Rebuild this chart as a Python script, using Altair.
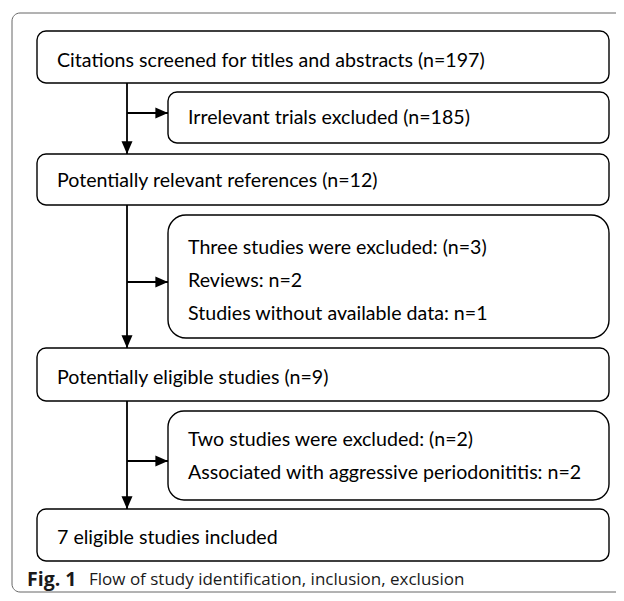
import altair as alt
import pandas as pd

# ---- content ----
main_steps = [
    "Citations screened for titles and abstracts (n=197)",
    "Potentially relevant references (n=12)",
    "Potentially eligible studies (n=9)",
    "7 eligible studies included",
]
exclusion_texts = [
    ["Irrelevant trials excluded (n=185)"],
    ["Three studies were excluded: (n=3)", "Reviews: n=2",
     "Studies without available data: n=1"],
    ["Two studies were excluded: (n=2)",
     "Associated with aggressive periodonititis: n=2"],
]
caption_label = "Fig. 1"
caption_text = "Flow of study identification, inclusion, exclusion"

# ---- layout (page pixel coordinates) ----
MAIN_X = (37, 609)
EXC_X = (168, 609)
TRUNK_X = 127
main_y = [(31, 83), (154, 205), (348, 401), (509, 561)]
main_text_y = [61, 181, 378, 538]
exc_y = [(92, 143), (215, 338), (411, 500)]
exc_radius = [9, 18, 16]
exc_text_y = [[118], [248, 281, 314], [440, 473]]
branch_y = [113, 282, 461]
FRAME = dict(x=12, x2=660, y=13, y2=592)

W, H = 608, 585
xs = alt.Scale(domain=[8, 8 + W], range=[0, W])
ys = alt.Scale(domain=[8, 8 + H], range=[0, H])
FONT = "Lato"
FS = 19.6


def X(f="x"):
    return alt.X(f"{f}:Q", scale=xs, axis=None)


def Y(f="y"):
    return alt.Y(f"{f}:Q", scale=ys, axis=None)


layers = []

# outer frame
frame_df = pd.DataFrame([FRAME])
layers.append(
    alt.Chart(frame_df).mark_rect(fill="white", stroke="#666666", strokeWidth=1,
                                  cornerRadius=8, clip=True)
    .encode(x=X(), x2="x2:Q", y=Y(), y2="y2:Q")
)

# connectors: trunk segments between main boxes
trunk = pd.DataFrame([
    {"x": TRUNK_X, "y": main_y[i][1], "y2": main_y[i + 1][0]}
    for i in range(len(main_y) - 1)
])
layers.append(
    alt.Chart(trunk).mark_rule(color="black", strokeWidth=1.8)
    .encode(x=X(), y=Y(), y2="y2:Q")
)
branches = pd.DataFrame([
    {"x": TRUNK_X, "x2": EXC_X[0], "y": by} for by in branch_y
])
layers.append(
    alt.Chart(branches).mark_rule(color="black", strokeWidth=1.8)
    .encode(x=X(), x2="x2:Q", y=Y())
)
# arrowheads
down_heads = pd.DataFrame([{"x": TRUNK_X, "y": main_y[i + 1][0]}
                           for i in range(len(main_y) - 1)])
layers.append(
    alt.Chart(down_heads).mark_point(shape="M-1,-2.3L1,-2.3L0,0Z", size=121,
                                     filled=True, color="black", opacity=1)
    .encode(x=X(), y=Y())
)
right_heads = pd.DataFrame([{"x": EXC_X[0], "y": by} for by in branch_y])
layers.append(
    alt.Chart(right_heads).mark_point(shape="M-2.3,-1L-2.3,1L0,0Z", size=121,
                                      filled=True, color="black", opacity=1)
    .encode(x=X(), y=Y())
)

# main boxes
main_df = pd.DataFrame([
    {"x": MAIN_X[0], "x2": MAIN_X[1], "y": a, "y2": b} for a, b in main_y
])
layers.append(
    alt.Chart(main_df).mark_rect(fill="white", stroke="black", strokeWidth=1.4,
                                 cornerRadius=9)
    .encode(x=X(), x2="x2:Q", y=Y(), y2="y2:Q")
)
# exclusion boxes
for (a, b), r in zip(exc_y, exc_radius):
    df = pd.DataFrame([{"x": EXC_X[0], "x2": EXC_X[1], "y": a, "y2": b}])
    layers.append(
        alt.Chart(df).mark_rect(fill="white", stroke="black", strokeWidth=1.4,
                                cornerRadius=r)
        .encode(x=X(), x2="x2:Q", y=Y(), y2="y2:Q")
    )

# texts
text_rows = [{"x": MAIN_X[0] + 20, "y": ty, "t": s}
             for s, ty in zip(main_steps, main_text_y)]
for lines, tys in zip(exclusion_texts, exc_text_y):
    for s, ty in zip(lines, tys):
        text_rows.append({"x": EXC_X[0] + 20, "y": ty, "t": s})
text_df = pd.DataFrame(text_rows)
layers.append(
    alt.Chart(text_df).mark_text(align="left", baseline="middle", font=FONT,
                                 fontSize=FS, color="black")
    .encode(x=X(), y=Y(), text="t:N")
)

# caption
cap1 = pd.DataFrame([{"x": 27, "y": 580, "t": caption_label}])
cap2 = pd.DataFrame([{"x": 89, "y": 580, "t": caption_text}])
layers.append(
    alt.Chart(cap1).mark_text(align="left", baseline="middle", font="Open Sans",
                              fontSize=19.5, fontWeight="bold", color="#1a1a1a")
    .encode(x=X(), y=Y(), text="t:N")
)
layers.append(
    alt.Chart(cap2).mark_text(align="left", baseline="middle", font="Open Sans",
                              fontSize=17, color="#1a1a1a")
    .encode(x=X(), y=Y(), text="t:N")
)

chart = alt.layer(*layers).properties(
    width=W, height=H, padding=0, autosize=alt.AutoSizeParams(type="none")
).configure_view(stroke=None)

chart.save("out.html", embed_options={"renderer": "svg", "actions": False})
